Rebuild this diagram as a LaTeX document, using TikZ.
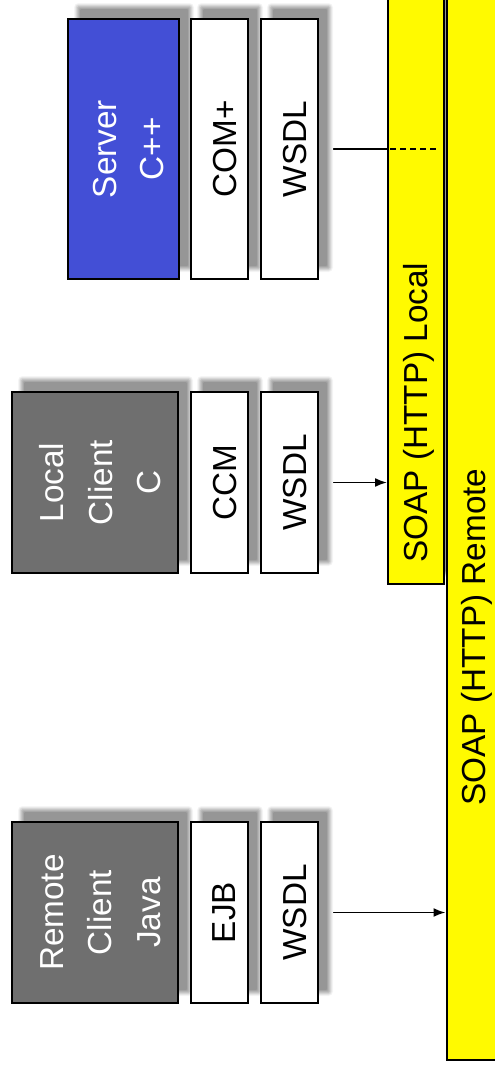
\documentclass[tikz,border=0pt]{standalone}
\usepackage{fontspec}
\setmainfont{Liberation Sans}
\usetikzlibrary{arrows.meta,calc}
\pgfdeclarelayer{background}
\pgfdeclarelayer{shadowlayer}
\pgfsetlayers{background,shadowlayer,main}
\definecolor{clientgray}{RGB}{111,111,111}
\definecolor{serverblue}{RGB}{67,79,214}
\definecolor{soapyellow}{RGB}{255,250,0}
\definecolor{shadowgray}{RGB}{150,150,150}
\tikzset{
  box/.style={draw=black, line width=2pt, rectangle, inner sep=0pt},
  layerbox/.style={box, fill=white, minimum width=57pt},
  clientbox/.style={box, fill=clientgray, minimum width=166pt, minimum height=181pt},
  serverbox/.style={box, fill=serverblue, minimum width=111pt, minimum height=260pt},
  soapbox/.style={draw=black, line width=2pt, fill=soapyellow, inner sep=0pt, rectangle},
  lbl/.style={font=\fontsize{33.3}{48.5}\selectfont, rotate=90, align=center, inner sep=0pt},
  soaplbl/.style={font=\fontsize{33.3}{40}\selectfont, rotate=90, anchor=base, inner sep=0pt},
  conn/.style={line width=1.8pt, draw=black},
  arrowconn/.style={conn, -{Latex[length=12pt,width=9pt]}},
}
% soft opaque drop shadow behind a named node (shift right 10.5, up 11.5)
\newcommand\mydropshadow[1]{%
  \foreach \e/\c in {3.5/10,2.5/22,1.5/38,0.5/55,-0.5/70,-1.5/84,-2.5/100}{%
    \fill[shadowgray!\c, rounded corners={max(\e,0)+1}]
      ($(#1.north west)+(10.5-\e,-11.5-\e)$) rectangle ($(#1.south east)+(10.5+\e,-11.5+\e)$);
  }%
}
\begin{document}
\begin{tikzpicture}[x=1pt,y=-1pt]
\path[use as bounding box] (0,0) rectangle (495,1068);
\clip (0,0) rectangle (495,1068);

% SOAP boxes
\node[soapbox, minimum width=56pt, minimum height=594pt] (soaplocal) at (416,287) {};
\node[soapbox, minimum width=64pt, minimum height=1070pt] (soapremote) at (478.5,525) {};
\node[soaplbl] (soaplocaltxt) at (427,412.5) {SOAP (HTTP) Local};
\node[soaplbl] (soapremotetxt) at (485,637) {SOAP (HTTP) Remote};

% Server column
\node[serverbox] (server) at (123.5,149) {};
\node[layerbox, minimum height=260pt] (scom) at (219.5,149) {};
\node[layerbox, minimum height=260pt] (swsdl) at (289.5,149) {};
\node[lbl, text=white, font=\fontsize{33.3}{47}\selectfont] (servertxt) at (128.65,149) {Server\\C++};
\node[lbl] (scomtxt) at (224.6,149) {COM+};
\node[lbl] (swsdltxt) at (294.6,149) {WSDL};

% Local client column
\node[clientbox] (lclient) at (95,482.5) {};
\node[layerbox, minimum height=181pt] (lccm) at (219.5,482.5) {};
\node[layerbox, minimum height=181pt] (lwsdl) at (289.5,482.5) {};
\node[lbl, text=white] (lclienttxt) at (100.3,482.5) {Local\\Client\\C};
\node[lbl] (lccmtxt) at (224.6,482.5) {CCM};
\node[lbl] (lwsdltxt) at (294.6,482.5) {WSDL};

% Remote client column
\node[clientbox] (rclient) at (95,912.5) {};
\node[layerbox, minimum height=181pt] (rejb) at (219.5,912.5) {};
\node[layerbox, minimum height=181pt] (rwsdl) at (289.5,912.5) {};
\node[lbl, text=white] (rclienttxt) at (100.3,912.5) {Remote\\Client\\Java};
\node[lbl] (rejbtxt) at (224.6,912.5) {EJB};
\node[lbl] (rwsdltxt) at (294.6,912.5) {WSDL};

% shadows
\begin{pgfonlayer}{shadowlayer}
\foreach \n in {soaplocal,server,scom,swsdl,lclient,lccm,lwsdl,rclient,rejb,rwsdl}{\mydropshadow{\n}}
\end{pgfonlayer}

% connectors
\begin{pgfonlayer}{background}
\draw[conn] (scom.east) -- (swsdl.west);
\draw[conn] (lccm.east) -- (lwsdl.west);
\draw[conn] (rejb.east) -- (rwsdl.west);
\draw[conn] (swsdl.east) -- (swsdl.east -| soaplocal.west);
\draw[arrowconn] (lwsdl.east) -- (lwsdl.east -| soaplocal.west);
\draw[arrowconn] (rwsdl.east) -- (rwsdl.east -| soapremote.west);
\end{pgfonlayer}
\coordinate (dashend) at (438,149);
\draw[line width=1.3pt, dash pattern=on 5.5pt off 4.5pt] ($(swsdl.east -| soaplocal.west)+(3,0)$) -- (dashend);
\end{tikzpicture}
\end{document}
